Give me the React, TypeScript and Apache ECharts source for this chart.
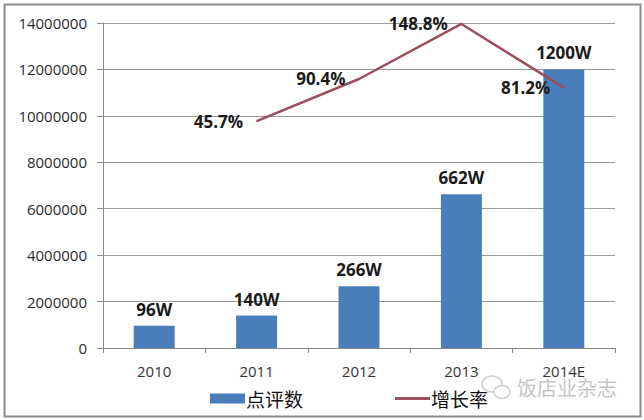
import React, { useEffect, useRef } from "react";
import * as echarts from "echarts";

const categories = ["2010", "2011", "2012", "2013", "2014E"];
const reviewCounts = [960000, 1400000, 2660000, 6620000, 12000000];
const growthRates: (number | null)[] = [null, 45.7, 90.4, 148.8, 81.2];
const yTicks = { min: 0, max: 14000000, interval: 2000000 };

export default function App() {
  const ref = useRef<HTMLDivElement>(null);
  useEffect(() => {
    if (!ref.current) return;
    const chart = echarts.init(ref.current, null, { renderer: "svg" });
    const font = "'Open Sans', 'DejaVu Sans', sans-serif";
    const cjk = "'Noto Sans CJK SC', sans-serif";
    const lineColor = "#9b4f5c";
    chart.setOption({
      animation: false,
      backgroundColor: "#ffffff",
      grid: { left: 103, right: 29, top: 23, bottom: 72, containLabel: false },
      legend: {
        left: 205,
        top: 384,
        itemWidth: 35,
        itemHeight: 10,
        itemGap: 92,
        textStyle: { fontFamily: cjk, fontSize: 19, color: "#111", padding: [0, 0, 0, -4] },
        data: [
          { name: "点评数", icon: "rect" },
          { name: "增长率", icon: "path://M0,0 L35,0 L35,3 L0,3 Z", itemStyle: { color: lineColor, opacity: 1 } },
        ],
      },
      xAxis: {
        type: "category",
        data: categories,
        axisLine: { lineStyle: { color: "#8a8a8a", width: 1 } },
        axisTick: { show: true, length: 5, lineStyle: { color: "#8a8a8a" } },
        axisLabel: { fontFamily: font, fontSize: 15, color: "#333", margin: 15 },
      },
      yAxis: [
        {
          type: "value",
          min: yTicks.min,
          max: yTicks.max,
          interval: yTicks.interval,
          axisLine: { show: true, lineStyle: { color: "#8a8a8a" } },
          axisTick: { show: true, length: 6, lineStyle: { color: "#8a8a8a" } },
          axisLabel: {
            fontFamily: font,
            fontSize: 15,
            color: "#2b2b2b",
            margin: 16,
            formatter: (v: number) => String(v),
          },
          splitLine: { lineStyle: { color: "#9a9a9a", width: 1 } },
        },
        {
          type: "value",
          min: -195,
          max: 149.8,
          show: false,
          splitLine: { show: false },
        },
      ],
      series: [
        {
          name: "点评数",
          type: "bar",
          data: reviewCounts,
          barWidth: "40%",
          itemStyle: { color: "#4a7ebb" },
          label: {
            show: true,
            position: "top",
            distance: 8,
            fontFamily: font,
            fontWeight: "bold",
            fontSize: 17,
            color: "#1a1a1a",
            formatter: (p: any) => p.value / 10000 + "W",
          },
        },
        {
          name: "增长率",
          type: "line",
          yAxisIndex: 1,
          data: growthRates,
          symbol: "circle",
          symbolSize: 1,
          showSymbol: true,
          lineStyle: { color: lineColor, width: 2.5 },
          itemStyle: { color: lineColor },
          label: {
            show: true,
            position: "left",
            distance: 13,
            fontFamily: font,
            fontWeight: "bold",
            fontSize: 17,
            color: "#1a1a1a",
            formatter: (p: any) => p.value + "%",
          },
        },
      ],
      graphic: [
        {
          type: "rect",
          left: 2,
          top: 2,
          shape: { width: 636, height: 412 },
          style: { fill: "none", stroke: "#8c8c8c", lineWidth: 2 },
          silent: true,
        },
        {
          type: "ellipse",
          shape: { cx: 492, cy: 384, rx: 10, ry: 8 },
          style: { fill: "none", stroke: "#cfcfcf", lineWidth: 1.5 },
          silent: true,
        },
        {
          type: "ellipse",
          shape: { cx: 502, cy: 392, rx: 8, ry: 6.5 },
          style: { fill: "#fff", stroke: "#cfcfcf", lineWidth: 1.5 },
          silent: true,
        },
        {
          type: "text",
          x: 517,
          y: 387,
          style: {
            text: "饭店业杂志",
            fontFamily: cjk,
            fontSize: 20,
            fill: "#c6c6c6",
            verticalAlign: "middle",
          },
          silent: true,
        },
      ],
    });
    return () => chart.dispose();
  }, []);
  return (
    <div
      ref={ref}
      style={{ position: "fixed", left: 0, top: 0, width: 644, height: 420 }}
    />
  );
}
